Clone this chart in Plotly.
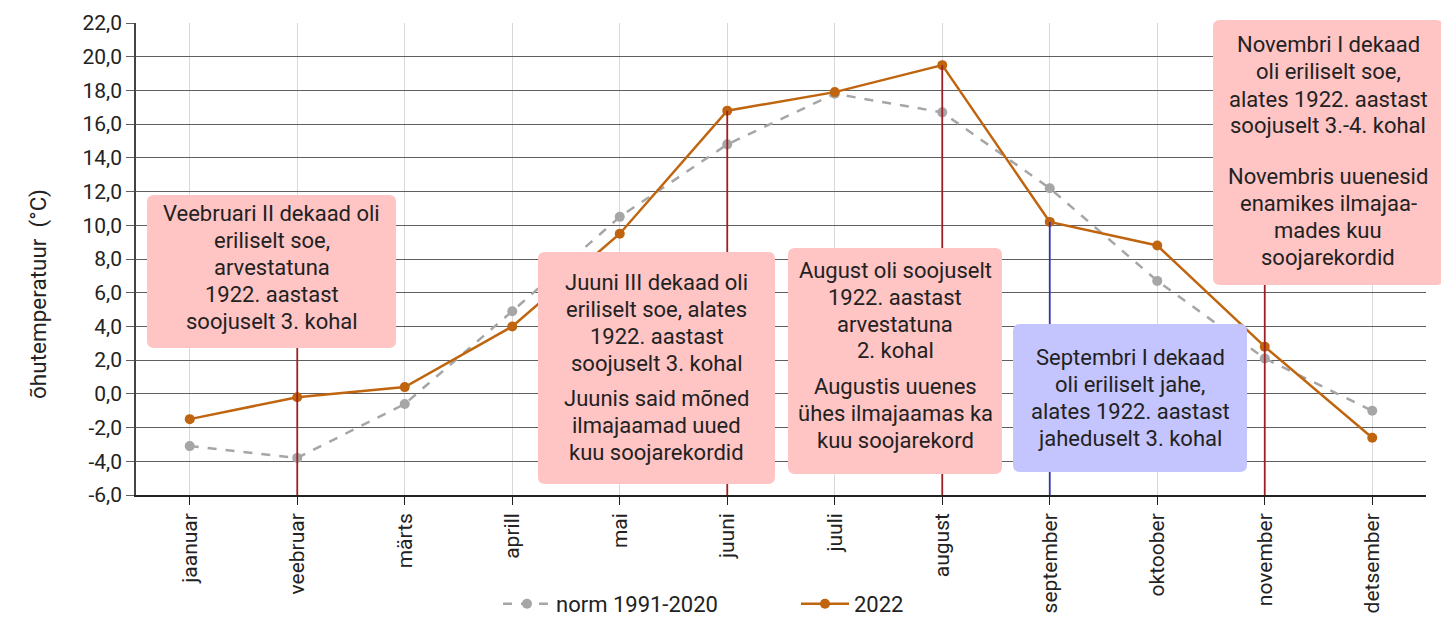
import plotly.graph_objects as go

months = ["jaanuar", "veebruar", "märts", "aprill", "mai", "juuni", "juuli",
          "august", "september", "oktoober", "november", "detsember"]
norm_1991_2020 = [-3.1, -3.8, -0.6, 4.9, 10.5, 14.8, 17.8, 16.7, 12.2, 6.7, 2.1, -1.0]
year_2022 = [-1.5, -0.2, 0.4, 4.0, 9.5, 16.8, 17.9, 19.5, 10.2, 8.8, 2.8, -2.6]
y_ticks = [-6, -4, -2, 0, 2, 4, 6, 8, 10, 12, 14, 16, 18, 20, 22]
y_tick_labels = [f"{v:.1f}".replace(".", ",") for v in y_ticks]

W, H = 1449, 621
OFF = 8  # default page body margin
L, R, T, B = 136, 1426, 23, 495

def px(x):
    return (x - L) / (R - L)

def py(y):
    return (B - y) / (B - T)

fig = go.Figure()
fig.add_trace(go.Scatter(
    x=months, y=norm_1991_2020, name="norm 1991-2020", mode="lines+markers",
    line=dict(color="#a6a6a6", width=2.5, dash="dash"),
    marker=dict(color="#a6a6a6", size=10),
))
fig.add_trace(go.Scatter(
    x=months, y=year_2022, name="2022", mode="lines+markers",
    line=dict(color="#c0650f", width=2.5),
    marker=dict(color="#c0650f", size=10),
))

shapes = []
vlines = [("veebruar", 4, "#9e1f24"), ("juuni", year_2022[5], "#9e1f24"),
          ("august", year_2022[7], "#9e1f24"), ("september", year_2022[8], "#3333b3"),
          ("november", 8, "#9e1f24")]
for m, top, col in vlines:
    shapes.append(dict(type="line", xref="x", yref="y", x0=m, x1=m, y0=-6, y1=top,
                       line=dict(color=col, width=1.8), layer="above"))

def rounded_box(x0, y0, x1, y1, color, r=7):
    def P(x, y):
        return f"{px(x):.5f},{py(y):.5f}"
    path = (f"M {P(x0 + r, y0)} L {P(x1 - r, y0)} Q {P(x1, y0)} {P(x1, y0 + r)} "
            f"L {P(x1, y1 - r)} Q {P(x1, y1)} {P(x1 - r, y1)} "
            f"L {P(x0 + r, y1)} Q {P(x0, y1)} {P(x0, y1 - r)} "
            f"L {P(x0, y0 + r)} Q {P(x0, y0)} {P(x0 + r, y0)} Z")
    return dict(type="path", xref="paper", yref="paper", path=path,
                fillcolor=color, line=dict(width=0), layer="above")

PINK = "#ffc4c4"
BLUE = "#c4c4ff"
boxes = [
    ((147, 195, 396, 348), PINK, 213, 0,
     [["Veebruari II dekaad oli", "eriliselt soe,", "arvestatuna", "1922. aastast", "soojuselt 3. kohal"]]),
    ((538, 252, 775, 484), PINK, 282, 35,
     [["Juuni III dekaad oli", "eriliselt soe, alates", "1922. aastast", "soojuselt 3. kohal"],
      ["Juunis said mõned", "ilmajaamad uued", "kuu soojarekordid"]]),
    ((788, 248, 1002, 474), PINK, 270, 35,
     [["August oli soojuselt", "1922. aastast", "arvestatuna", "2. kohal"],
      ["Augustis uuenes", "ühes ilmajaamas ka", "kuu soojarekord"]]),
    ((1013, 324, 1247, 472), BLUE, 357, 0,
     [["Septembri I dekaad", "oli eriliselt jahe,", "alates 1922. aastast", "jaheduselt 3. kohal"]]),
    ((1213, 20, 1443, 285), PINK, 45, 50,
     [["Novembri I dekaad", "oli eriliselt soe,", "alates 1922. aastast", "soojuselt 3.-4. kohal"],
      ["Novembris uuenesid", "enamikes ilmajaa-", "mades kuu", "soojarekordid"]]),
]
LINE = 27
annotations = []
for (x0, y0, x1, y1), col, ystart, gap, paras in boxes:
    shapes.append(rounded_box(x0, y0, x1, y1, col))
    yy = ystart
    cx = (x0 + x1) / 2
    for pi, para in enumerate(paras):
        if pi > 0:
            yy += gap - LINE
        for line in para:
            annotations.append(dict(
                xref="paper", yref="paper", x=px(cx), y=py(yy), text=line,
                showarrow=False, xanchor="center", yanchor="middle",
                font=dict(family="Roboto", size=22, color="#222222"),
            ))
            yy += LINE

annotations.append(dict(
    xref="paper", yref="paper", x=px(38), y=py(294), text="õhutemperatuur  (°C)",
    textangle=-90, showarrow=False, xanchor="center", yanchor="middle",
    font=dict(family="Roboto", size=22.5, color="#222222"),
))

fig.update_layout(
    width=W - OFF, height=H - OFF,
    margin=dict(l=L - OFF, r=W - R, t=T - OFF, b=H - B, autoexpand=False),
    paper_bgcolor="white", plot_bgcolor="white",
    font=dict(family="Roboto", color="#222222"),
    shapes=shapes, annotations=annotations,
    showlegend=True,
    legend=dict(orientation="h", x=px(498), xanchor="left", y=py(604), yanchor="middle",
                font=dict(family="Roboto", size=22, color="#222222"),
                entrywidth=235, entrywidthmode="pixels", itemwidth=48, bgcolor="rgba(0,0,0,0)"),
)
fig.update_xaxes(
    type="category", range=[-0.5, 11.5], tickangle=-90,
    showgrid=True, gridcolor="#d9d9d9", gridwidth=1,
    showline=True, linecolor="#222222", linewidth=1.5,
    ticks="outside", ticklen=8, tickcolor="#222222",
    tickfont=dict(family="Roboto", size=21, color="#222222"),
)
fig.update_yaxes(
    range=[-6, 22], tickvals=y_ticks, ticktext=y_tick_labels,
    showgrid=True, gridcolor="#5f5f5f", gridwidth=1.3,
    showline=True, linecolor="#444444", linewidth=1.5,
    ticks="outside", ticklen=8, tickcolor="#5f5f5f",
    tickfont=dict(family="Roboto", size=21, color="#222222"),
    zeroline=False,
)

fig.write_html("out.html")
